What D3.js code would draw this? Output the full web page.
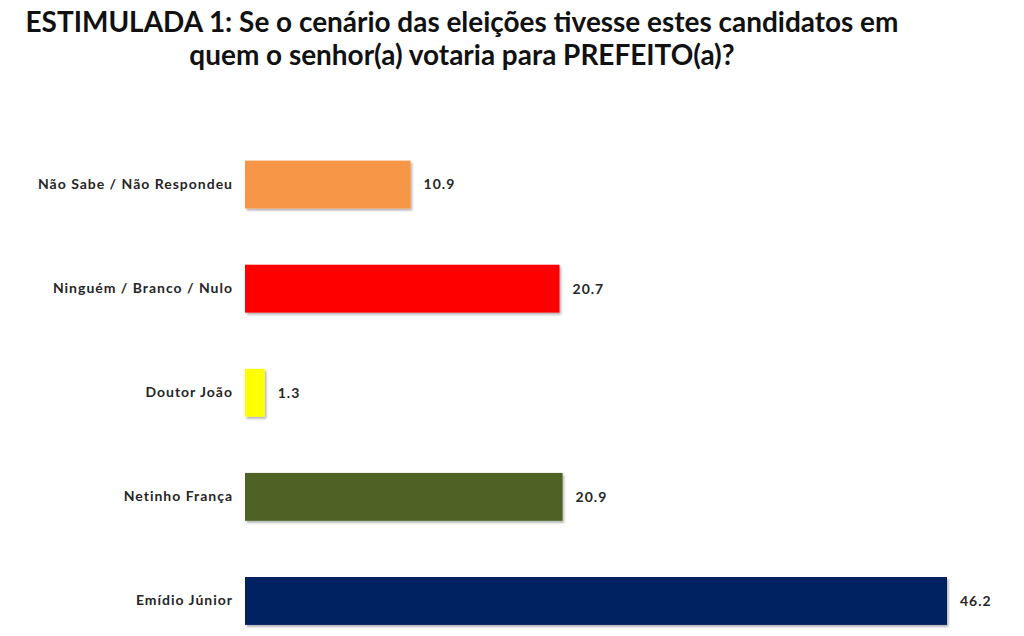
<!DOCTYPE html>
<html><head><meta charset="utf-8">
<script src="https://cdn.jsdelivr.net/npm/d3@7/dist/d3.min.js"></script>
<style>body{margin:0;background:#fff}svg{display:block}</style>
</head><body><svg id="c" width="1024" height="636"></svg>
<script>
const categories = ["Não Sabe / Não Respondeu", "Ninguém / Branco / Nulo", "Doutor João", "Netinho França", "Emídio Júnior"];
const values = [10.9, 20.7, 1.3, 20.9, 46.2];
const colors = ["#F79646", "#FF0000", "#FFFF00", "#4F6228", "#002060"];
const titleLines = ["ESTIMULADA 1: Se o cenário das eleições tivesse estes candidatos em", "quem o senhor(a) votaria para PREFEITO(a)?"];

const svg = d3.select("#c");
const font = "Lato, 'Open Sans', sans-serif";

const defs = svg.append("defs");
const f = defs.append("filter").attr("id","sh").attr("x","-10%").attr("y","-10%").attr("width","130%").attr("height","140%");
f.append("feDropShadow").attr("dx",1.5).attr("dy",2).attr("stdDeviation",1.2).attr("flood-color","#000").attr("flood-opacity",0.3);

// title
const tx = 462;
const t1 = svg.append("text").attr("x",tx).attr("y",32).attr("text-anchor","middle")
  .attr("font-family",font).attr("font-weight","bold").attr("font-size",26).attr("fill","#111").text(titleLines[0]);
let w = t1.node().getComputedTextLength();
const fs = 26*873/w;
t1.attr("font-size",fs);
svg.append("text").attr("x",tx).attr("y",65).attr("text-anchor","middle")
  .attr("font-family",font).attr("font-weight","bold").attr("font-size",fs).attr("fill","#111").text(titleLines[1]);

const x = d3.scaleLinear().domain([0, 46.2]).range([245, 947]);
const y = d3.scaleBand().domain(categories).range([132.5, 653]).paddingInner(0.54).paddingOuter(0.27);

const g = svg.append("g");
g.selectAll("rect").data(categories).join("rect")
  .attr("x", x(0)).attr("y", d=>y(d)).attr("height", y.bandwidth())
  .attr("width", (d,i)=>x(values[i])-x(0)).attr("fill",(d,i)=>colors[i]).attr("filter","url(#sh)");

const yAxis = d3.axisLeft(y).tickSize(0).tickPadding(12);
const ax = svg.append("g").attr("transform",`translate(${x(0)},0)`).call(yAxis);
ax.select(".domain").remove();
const labs = ax.selectAll("text").attr("font-family",font).attr("font-weight","bold").attr("font-size",14).attr("fill","#262626");
// widen letter spacing so longest label spans like the reference
const first = labs.filter(d=>d===categories[0]).node();
const w0 = first.getComputedTextLength();
const n0 = categories[0].length;
const ls = Math.max(0,(195 - w0)/n0);
labs.attr("letter-spacing", ls);

g.selectAll("text.v").data(categories).join("text").attr("class","v")
  .attr("x",(d,i)=>x(values[i])+13).attr("y",d=>y(d)+y.bandwidth()/2).attr("dy","0.35em")
  .attr("font-family",font).attr("font-weight","bold").attr("font-size",14).attr("letter-spacing",1).attr("fill","#262626")
  .text((d,i)=>values[i].toFixed(1));
</script></body></html>
